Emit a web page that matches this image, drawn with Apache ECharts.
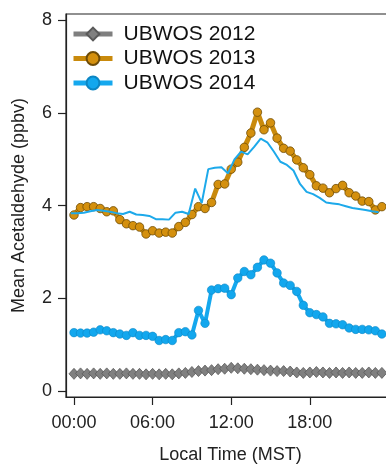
<!DOCTYPE html>
<html>
<head>
<meta charset="utf-8">
<script src="https://cdn.jsdelivr.net/npm/echarts@6/dist/echarts.min.js"></script>
<style>html,body{margin:0;padding:0;background:#fff;overflow:hidden;width:386px;height:469px}#c{width:420px;height:469px}</style>
</head>
<body>
<div id="c"></div>
<script>
// Local time (hours) of the half-hourly means
const hours = [0,0.5,1,1.5,2,2.5,3,3.5,4,4.5,5,5.5,6,6.5,7,7.5,8,8.5,9,9.5,10,10.5,11,11.5,
  12,12.5,13,13.5,14,14.5,15,15.5,16,16.5,17,17.5,18,18.5,19,19.5,20,20.5,21,21.5,22,22.5,23,23.5];
// Times of the unlabelled thin blue line
const thinHours = [-0.25,0.25,0.75,1.25,1.75,2.25,2.75,3.25,3.75,4.25,4.75,5.25,5.75,6.25,6.75,7.25,
  7.75,8.25,8.75,9.25,9.75,10.25,10.75,11.25,11.75,12.25,12.75,13.25,13.75,14.25,14.75,15.25,
  15.75,16.25,16.75,17.25,17.75,18.25,18.75,19.25,19.75,20.25,20.75,21.25,21.75,22.25,22.75,23.25];

const ubwos2012 = [0.37,0.38,0.37,0.38,0.37,0.38,0.37,0.37,0.38,0.37,0.37,0.36,0.37,0.36,0.37,0.36,
  0.38,0.39,0.41,0.43,0.44,0.45,0.47,0.48,0.50,0.49,0.48,0.47,0.46,0.45,0.44,0.43,
  0.43,0.42,0.40,0.39,0.40,0.41,0.40,0.39,0.40,0.39,0.40,0.39,0.39,0.40,0.39,0.39];
const ubwos2013 = [3.80,3.96,3.98,3.98,3.94,3.87,3.89,3.70,3.61,3.57,3.54,3.39,3.46,3.41,3.43,3.41,
  3.55,3.64,3.81,3.98,3.94,4.07,4.46,4.47,4.79,4.94,5.26,5.57,6.02,5.64,5.79,5.46,
  5.24,5.18,4.99,4.82,4.67,4.43,4.38,4.28,4.37,4.44,4.28,4.21,4.10,4.09,3.91,3.98];
const ubwos2014 = [1.26,1.25,1.25,1.27,1.32,1.30,1.26,1.23,1.20,1.26,1.20,1.20,1.18,1.09,1.11,1.09,
  1.26,1.28,1.21,1.74,1.46,2.18,2.21,2.22,2.08,2.44,2.58,2.51,2.67,2.83,2.76,2.55,
  2.33,2.28,2.15,1.85,1.69,1.65,1.60,1.46,1.45,1.43,1.36,1.33,1.33,1.32,1.30,1.23];
const thinLine = [3.84,3.84,3.85,3.88,3.91,3.89,3.87,3.84,3.82,3.87,3.81,3.80,3.78,3.71,3.71,3.70,
  3.85,3.87,3.82,4.37,4.06,4.79,4.82,4.83,4.70,5.00,5.17,5.11,5.27,5.45,5.37,5.17,
  4.95,4.88,4.76,4.47,4.30,4.25,4.17,4.07,4.05,4.03,3.99,3.95,3.93,3.91,3.88,3.86];

const xTickValues = [0,6,12,18];
const xTickLabels = ['00:00','06:00','12:00','18:00'];
const yTickValues = [0,2,4,6,8];
const seriesNames = ['UBWOS 2012','UBWOS 2013','UBWOS 2014'];

const zip = (xs, ys) => xs.map((x, i) => [x, ys[i]]);
const FONT = "'Liberation Sans', Arial, sans-serif";

const chart = echarts.init(document.getElementById('c'), null, {renderer: 'canvas'});
chart.setOption({
  animation: false,
  backgroundColor: '#fff',
  textStyle: {fontFamily: FONT},
  grid: {left: 66, top: 14, bottom: 66, right: 25, show: true, borderColor: '#222', borderWidth: 1.2},
  legend: {
    data: seriesNames,
    orient: 'vertical',
    left: 66, top: 18,
    itemWidth: 39, itemHeight: 16, itemGap: 2.5,
    lineStyle: {width: 5},
    textStyle: {fontFamily: FONT, fontSize: 21, color: '#111', padding: [0, 0, 0, 6], lineHeight: 22}
  },
  xAxis: {
    type: 'value', min: -0.61, max: 24.5,
    name: 'Local Time (MST)', nameLocation: 'middle', nameGap: 49,
    nameTextStyle: {fontFamily: FONT, fontSize: 18, color: '#222'},
    axisLine: {show: true, onZero: false, lineStyle: {color: '#222', width: 1.2}},
    axisTick: {show: true, inside: false, length: 8, customValues: xTickValues, lineStyle: {color: '#222', width: 1.2}},
    axisLabel: {customValues: xTickValues, margin: 17, fontFamily: FONT, fontSize: 18, color: '#222',
      formatter: v => xTickLabels[xTickValues.indexOf(v)]},
    splitLine: {show: false}
  },
  yAxis: {
    type: 'value', min: -0.13, max: 8.14,
    name: 'Mean Acetaldehyde (ppbv)', nameLocation: 'middle', nameGap: 38,
    nameTextStyle: {fontFamily: FONT, fontSize: 18, color: '#222'},
    axisLine: {show: true, onZero: false, lineStyle: {color: '#222', width: 1.2}},
    axisTick: {show: true, inside: false, length: 8, customValues: yTickValues, lineStyle: {color: '#222', width: 1.2}},
    axisLabel: {customValues: yTickValues, margin: 14, fontFamily: FONT, fontSize: 18, color: '#222'},
    splitLine: {show: false}
  },
  series: [
    {
      name: seriesNames[0], type: 'line', data: zip(hours, ubwos2012),
      symbol: 'diamond', symbolSize: [10, 11], showAllSymbol: true,
      lineStyle: {color: '#7f7f7f', width: 4},
      itemStyle: {color: '#808080', borderColor: '#5a5a5a', borderWidth: 0.8},
      z: 2
    },
    {
      name: seriesNames[1], type: 'line', data: zip(hours, ubwos2013),
      symbol: 'circle', symbolSize: 8.5, showAllSymbol: true,
      lineStyle: {color: '#C98A0C', width: 5},
      itemStyle: {color: '#D4900E', borderColor: '#6e4c08', borderWidth: 0.8},
      z: 3
    },
    {
      name: seriesNames[2], type: 'line', data: zip(hours, ubwos2014),
      symbol: 'circle', symbolSize: 8.5, showAllSymbol: true,
      lineStyle: {color: '#15A8EE', width: 4},
      itemStyle: {color: '#12A7EE', borderColor: '#0c86c4', borderWidth: 0.6},
      z: 3
    },
    {
      name: 'UBWOS 2014 (thin)', type: 'line', data: zip(thinHours, thinLine),
      symbol: 'none', lineStyle: {color: '#1DA9EA', width: 2},
      z: 4
    }
  ]
});
</script>
</body>
</html>
